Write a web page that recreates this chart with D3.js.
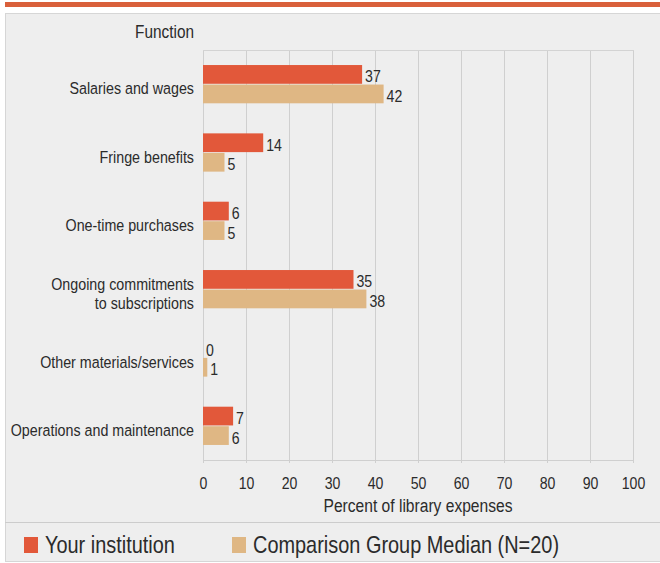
<!DOCTYPE html>
<html><head><meta charset="utf-8">
<script src="https://cdn.jsdelivr.net/npm/d3@7/dist/d3.min.js"></script>
<style>body{margin:0;background:#fff;} text{font-family:"Liberation Sans",Arial,sans-serif;fill:#2b2b2b;}</style>
</head><body><svg id="c" width="660" height="563"></svg>
<script>
const categories = ["Salaries and wages","Fringe benefits","One-time purchases","Ongoing commitments\nto subscriptions","Other materials/services","Operations and maintenance"];
const seriesNames = ["Your institution","Comparison Group Median (N=20)"];
const yourInstitution = [37,14,6,35,0,7];
const comparisonMedian = [42,5,5,38,1,6];
const xTicks = [0,10,20,30,40,50,60,70,80,90,100];
const colors = ["#e2583a","#dfb784"];
const SQ = 0.83; // horizontal condensing of the text

const svg = d3.select("#c");
function label(parent, px, py, txt, size, anchor){
  return parent.append("text").attr("transform",`translate(${px},${py}) scale(${SQ},1)`)
    .attr("text-anchor",anchor||"start").attr("dy","0.35em").style("font-size",size+"px").text(txt);
}

svg.append("rect").attr("x",5).attr("y",2).attr("width",655).attr("height",5).attr("fill","#d9603b");
svg.append("rect").attr("x",5.5).attr("y",13.5).attr("width",660).attr("height",548).attr("fill","#eeeeee").attr("stroke","#d6d6d6");

const m = {left:203, right:633, top:50, bottom:460};
const x = d3.scaleLinear().domain([0,100]).range([m.left,m.right]);
const y = d3.scaleBand().domain(categories).range([m.top,m.bottom]).paddingInner(0.44).paddingOuter(0.22);
const ySub = d3.scaleBand().domain([0,1]).range([0,y.bandwidth()]).paddingInner(0.04);

const g = svg.append("g");
g.selectAll("line.grid").data(xTicks).join("line")
  .attr("x1",d=>Math.round(x(d))+0.5).attr("x2",d=>Math.round(x(d))+0.5)
  .attr("y1",m.top).attr("y2",m.bottom+3).attr("stroke","#cfcfcf");
g.append("line").attr("x1",m.left).attr("x2",m.right+1).attr("y1",m.top+0.5).attr("y2",m.top+0.5).attr("stroke","#d3d3d3");
g.append("line").attr("x1",m.left).attr("x2",m.right+1).attr("y1",m.bottom+0.5).attr("y2",m.bottom+0.5).attr("stroke","#cfcfcf");

const axis = d3.axisBottom(x).tickValues(xTicks).tickSize(0).tickPadding(0);
const ag = svg.append("g").attr("transform",`translate(0,${m.bottom})`).call(axis);
ag.select(".domain").remove();
ag.selectAll("text").attr("y",null).attr("dy","0.35em")
  .attr("transform",`translate(0,23) scale(${SQ},1)`)
  .style("font-size","17px").style("fill","#2b2b2b").style("font-family","'Liberation Sans',Arial,sans-serif");

label(svg,(m.left+m.right)/2,505,"Percent of library expenses",18.8,"middle");
label(svg,194,32,"Function",18.5,"end");

categories.forEach((c,i)=>{
  const lines = c.split("\n");
  const cy = y(c)+y.bandwidth()/2 + 4;
  lines.forEach((l,j)=>{
    label(svg,194,cy + (j-(lines.length-1)/2)*19,l,17.2,"end");
  });
});

const series = [yourInstitution, comparisonMedian];
series.forEach((vals,s)=>{
  const bg = svg.append("g");
  bg.selectAll("rect").data(vals).join("rect")
    .attr("x",x(0)).attr("y",(d,i)=>y(categories[i])+ySub(s))
    .attr("width",d=>x(d)-x(0)).attr("height",ySub.bandwidth()).attr("fill",colors[s]);
  vals.forEach((d,i)=>{
    label(bg,x(d)+3,y(categories[i])+ySub(s)+ySub.bandwidth()/2+2,d,17);
  });
});

svg.append("line").attr("x1",5).attr("x2",660).attr("y1",522.5).attr("y2",522.5).attr("stroke","#cccccc");
const lx = [24,232];
seriesNames.forEach((n,i)=>{
  svg.append("rect").attr("x",lx[i]).attr("y",537).attr("width",14).attr("height",16).attr("fill",colors[i]);
  label(svg,lx[i]+21,545,n,24);
});
</script></body></html>
